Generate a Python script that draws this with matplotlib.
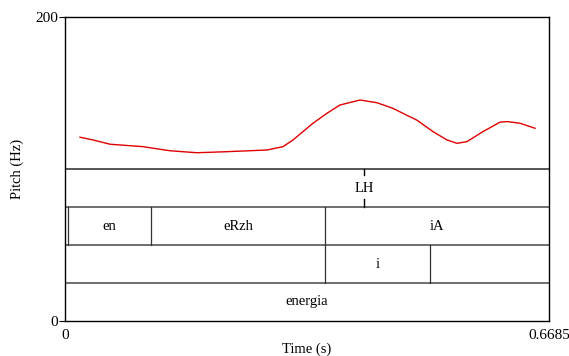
import matplotlib
matplotlib.use("Agg")
import matplotlib.pyplot as plt
import numpy as np

plt.rcParams['font.family'] = ['Liberation Serif', 'DejaVu Serif']

t_max = 0.6685
y_max = 200

# pitch contour (time s, Hz)
pitch_t = [0.0207, 0.0387, 0.0622, 0.1077, 0.1450, 0.1823, 0.2238, 0.2790,
           0.3011, 0.3149, 0.3287, 0.3425, 0.3619, 0.3798, 0.4075, 0.4309,
           0.4530, 0.4724, 0.4862, 0.5083, 0.5276, 0.5414, 0.5552, 0.5773,
           0.6008, 0.6105, 0.6284, 0.6492]
pitch_hz = [120.9, 119.1, 116.3, 114.7, 112.0, 110.7, 111.4, 112.5,
            114.7, 119.1, 124.6, 130.1, 136.7, 142.1, 145.4, 143.6,
            139.9, 135.3, 132.1, 124.6, 119.1, 116.9, 118.0, 124.6,
            130.8, 131.2, 130.1, 126.8]

# text grid tiers (top to bottom)
lh_point = 0.413
lh_label = "LH"
word_bounds = [0.0041, 0.1188, 0.3591]
word_labels = [(0.0041, 0.1188, "en"), (0.1188, 0.3591, "eRzh"), (0.3591, t_max, "iA")]
syl_bounds = [0.3591, 0.5041]
syl_labels = [(0.3591, 0.5041, "i")]
phrase_label = "energia"

fig = plt.figure(figsize=(5.69, 3.56), dpi=100)
ax = fig.add_axes([65 / 569, 1 - 321 / 356, 484 / 569, 304 / 356])
ax.set_xlim(0, t_max)
ax.set_ylim(0, y_max)

tier_h = 25
n_tiers = 4
tier_color = '#555555'

# tier separators
for k in range(1, n_tiers + 1):
    ax.axhline(k * tier_h, color=tier_color, lw=1.4 if k == n_tiers else 1.2)

fs = 10.5
# tier 1: point tier
top, bot = 4 * tier_h, 3 * tier_h
ax.plot([lh_point, lh_point], [top, top - 4], color='black', lw=1)
ax.plot([lh_point, lh_point], [bot, bot + 5], color='black', lw=1)
ax.text(lh_point, (top + bot) / 2, lh_label, ha='center', va='center', fontsize=fs)

# tier 2: words
top, bot = 3 * tier_h, 2 * tier_h
for b in word_bounds:
    ax.plot([b, b], [bot, top], color='#333333', lw=0.9)
for a, b, lab in word_labels:
    ax.text((a + b) / 2, (top + bot) / 2, lab, ha='center', va='center', fontsize=fs)

# tier 3: syllable
top, bot = 2 * tier_h, 1 * tier_h
for b in syl_bounds:
    ax.plot([b, b], [bot, top], color='#333333', lw=0.9)
for a, b, lab in syl_labels:
    ax.text((a + b) / 2, (top + bot) / 2, lab, ha='center', va='center', fontsize=fs)

# tier 4: whole phrase
ax.text(t_max / 2, tier_h / 2, phrase_label, ha='center', va='center', fontsize=fs)

ax.plot(pitch_t, pitch_hz, color='#e00000', lw=1)

for s in ax.spines.values():
    s.set_color('black')
    s.set_linewidth(1)
ax.set_xticks([0, t_max])
ax.set_xticklabels(['0', '0.6685'])
ax.set_yticks([0, y_max])
ax.set_yticklabels(['0', '200'])
ax.tick_params(axis='x', length=0, pad=6, labelsize=11)
ax.tick_params(axis='y', length=4, width=0.8, pad=1, labelsize=11)
ax.set_xlabel('Time (s)', fontsize=10.5, labelpad=0)
ax.set_ylabel('Pitch (Hz)', fontsize=10.5, labelpad=8)

fig.savefig('out.png', dpi=100)
